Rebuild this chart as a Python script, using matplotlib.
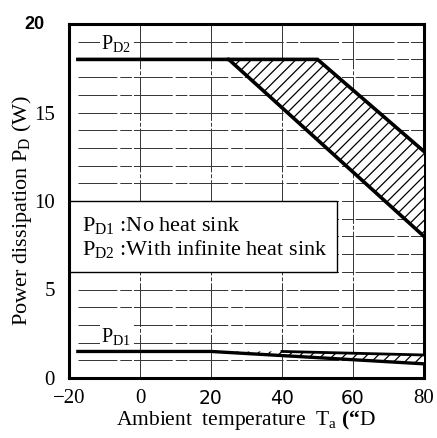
import matplotlib
matplotlib.use("Agg")
import matplotlib.pyplot as plt
from matplotlib.patches import Polygon, Rectangle

plt.rcParams['font.family'] = 'Liberation Serif'
plt.rcParams['mathtext.fontset'] = 'custom'
plt.rcParams['mathtext.rm'] = 'Liberation Serif'
plt.rcParams['mathtext.bf'] = 'Liberation Serif:bold'
plt.rcParams['hatch.linewidth'] = 0.9

# derating curves
ta_start = -17.5
pd2_low_x = [ta_start, 25, 80]        # with infinite heat sink, lower edge
pd2_low_y = [18, 18, 8]
pd2_up_x = [50, 80]                   # upper edge
pd2_up_y = [18, 12.8]
pd2_flat_end = 50

pd1_low_x = [ta_start, 20, 80]        # no heat sink, lower edge
pd1_low_y = [1.5, 1.5, 0.8]
pd1_up_x = [40, 80]
pd1_up_y = [1.5, 1.3]

h_grid = list(range(1, 20))
v_grid = [0, 20, 40, 60]
x_ticks = [-20, 0, 20, 40, 60, 80]
x_tick_labels = ['\u221220', '0', '20', '40', '60', '80']
y_ticks = [0, 5, 10, 15]

fig = plt.figure(figsize=(4.37, 4.38), dpi=100)
ax = fig.add_axes([69 / 437, 1 - 378 / 438, 355 / 437, 354 / 438])
ax.set_xlim(-20, 80)
ax.set_ylim(0, 20)

# grid (scanned look: long strokes with small breaks)
for w in h_grid:
    ax.plot([ta_start, 80], [w, w], color='#333333', lw=0.7,
            linestyle=(0, (40, 3, 12, 2)), zorder=1)
for t in v_grid:
    ax.plot([t, t], [0, 20], color='#333333', lw=0.7,
            linestyle=(0, (45, 2, 4, 2)), zorder=1)

# legend box
ax.add_patch(Rectangle((-20, 6), 75.5, 4, facecolor='white', edgecolor='black',
                       lw=1.0, zorder=2))
ax.text(-16.3, 8.6, r'P$_\mathregular{D1}$ :No heat sink', fontsize=16,
        va='center', ha='left', zorder=3)
ax.text(-16.3, 7.25, r'P$_\mathregular{D2}$ :With infinite heat sink', fontsize=16,
        va='center', ha='left', zorder=3)

# P_D2 region
poly2 = [(pd2_low_x[1], pd2_low_y[1]), (pd2_flat_end, 18),
         (pd2_up_x[1], pd2_up_y[1]), (pd2_low_x[2], pd2_low_y[2])]
ax.add_patch(Polygon(poly2, closed=True, facecolor='white', edgecolor='black',
                     hatch='///', lw=0, zorder=3))
ax.plot(pd2_low_x, pd2_low_y, color='black', lw=2.6, zorder=4,
        solid_joinstyle='miter')
ax.plot([pd2_low_x[1]] + pd2_up_x, [18] + pd2_up_y, color='black', lw=2.6,
        zorder=4, solid_joinstyle='miter')

# P_D1 region
poly1 = [(pd1_low_x[1], pd1_low_y[1]), (pd1_up_x[0], pd1_up_y[0]),
         (pd1_up_x[1], pd1_up_y[1]), (pd1_low_x[2], pd1_low_y[2])]
ax.add_patch(Polygon(poly1, closed=True, facecolor='white', edgecolor='black',
                     hatch='///', lw=0, zorder=3))
ax.plot(pd1_low_x, pd1_low_y, color='black', lw=2.4, zorder=4)
ax.plot(pd1_up_x, pd1_up_y, color='black', lw=2.0, zorder=4)

# curve labels
ax.text(-11, 18.85, r'P$_\mathregular{D2}$', fontsize=14.5, va='center', ha='left',
        zorder=3, bbox=dict(facecolor='white', edgecolor='none', pad=1))
ax.text(-11, 2.3, r'P$_\mathregular{D1}$', fontsize=14.5, va='center', ha='left',
        zorder=3, bbox=dict(facecolor='white', edgecolor='none', pad=1))

for s in ['top', 'left', 'right', 'bottom']:
    ax.spines[s].set_linewidth(2.2)

ax.set_xticks(x_ticks)
ax.set_xticklabels(x_tick_labels, fontsize=15)
for lbl, txt in zip(ax.get_xticklabels(), x_tick_labels):
    if txt in ('20', '40', '60'):
        lbl.set_fontfamily('DejaVu Sans')
        lbl.set_fontsize(13.5)
ax.tick_params(axis='x', length=0, pad=8)
ax.set_yticks(y_ticks)
ax.set_yticklabels([str(v) for v in y_ticks], fontsize=15)
ax.tick_params(axis='y', length=0, pad=10)
ax.text(-26.8, 19.95, '20', fontsize=13, fontweight='bold', family='Liberation Sans',
        ha='right', va='center')

fig.text(246 / 437, 1 - 420 / 438,
         'Ambient  temperature  T$_\\mathregular{a}$ $\\mathbf{(\u201c}$D',
         fontsize=15.5, ha='center', va='center')
fig.text(22 / 437, 1 - 210 / 438, 'Power dissipation P$_\\mathregular{D}$ (W)',
         fontsize=16, ha='center', va='center', rotation=90)

fig.savefig('out.png', dpi=100)
